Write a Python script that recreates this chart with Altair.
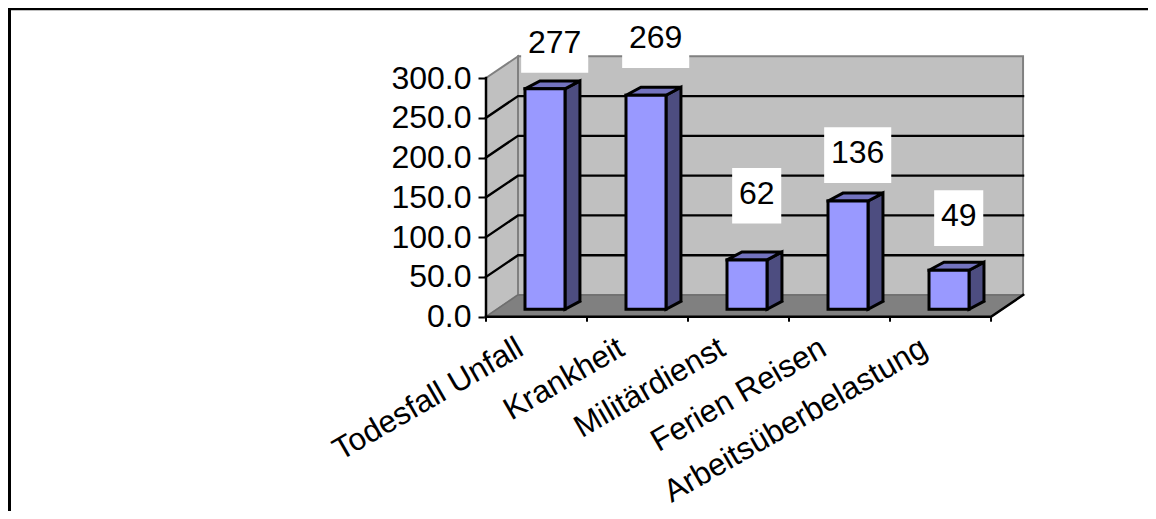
import altair as alt
import pandas as pd

categories = ["Todesfall Unfall", "Krankheit", "Militärdienst", "Ferien Reisen", "Arbeitsüberbelastung"]
values = [277, 269, 62, 136, 49]
y_ticks = [0, 50, 100, 150, 200, 250, 300]
label_lift = [64.5, 78.7, 90, 67, 75]  # how far each hand-placed data label sits above its bar

FONT = "Liberation Sans"
FS = 32
CAT_FS = 31.5
XS = alt.Scale(domain=[0, 6.554], nice=False, zero=False)
YS = alt.Scale(domain=[-244.2, 388], nice=False, zero=False)
DX, DY = 0.317, 27.3      # depth of the floor
BX, BY = 0.148, 10        # depth of a bar
INX, INY = 0.386, 9.4     # where bar fronts start in a slot
BW = 0.396
TOP = y_ticks[-1]
N = len(categories)

Y_AXIS = alt.Axis(values=y_ticks, format=".1f", title=None, domain=False, grid=False,
                  tickSize=8, tickWidth=2, tickColor="black", labelFont=FONT,
                  labelFontSize=FS, labelColor="black", labelPadding=7)
x_e = alt.X("x:Q", scale=XS, axis=None)
y_e = alt.Y("y:Q", scale=YS, axis=Y_AXIS)


def polys(shapes, **mark):
    rows = []
    for k, pts in enumerate(shapes):
        for o, (x, y) in enumerate(pts):
            rows.append({"p": k, "o": o, "x": x, "y": y})
    return alt.Chart(pd.DataFrame(rows)).mark_line(strokeJoin="miter", strokeCap="square", **mark).encode(
        x=x_e, y=y_e, detail="p:N", order="o:Q")


def closed(pts):
    return pts + [pts[0], pts[1]]


axis_line = polys([[(0, 0), (0, TOP)]], stroke="black", strokeWidth=2.5)
side_wall = polys([closed([(0, 0), (DX, DY), (DX, TOP + DY), (0, TOP)])], fill="#C0C0C0", stroke="#808080", strokeWidth=2)
back_wall = polys([closed([(DX, DY), (N + DX, DY), (N + DX, TOP + DY), (DX, TOP + DY)])], fill="#C0C0C0", stroke="#808080", strokeWidth=2)
floor = polys([closed([(0, 0), (N, 0), (N + DX, DY), (DX, DY)])], fill="#808080", stroke="#6E6E6E", strokeWidth=1.5)
grid = polys([[(0, v), (DX, v + DY), (N + DX, v + DY)] for v in y_ticks[1:-1]], stroke="black", strokeWidth=2.4)
front_edges = polys([[(0, 0), (N, 0), (N + DX, DY)]], stroke="black", strokeWidth=2.5)

ticks = alt.Chart(pd.DataFrame({"x": list(range(N + 1)), "y": [0] * (N + 1), "y2": [-6.3] * (N + 1)})).mark_rule(
    color="black", strokeWidth=2).encode(x=x_e, y=y_e, y2="y2:Q")

lab = pd.DataFrame({
    "x": [i + 0.68 for i in range(N)],
    "y": [v + l for v, l in zip(values, label_lift)],
    "t": [str(v) for v in values],
})
half = lab["t"].str.len().map({2: 0.243, 3: 0.332})
lab["x1"] = lab["x"] + half
lab["x0"] = lab["x"] - half
lab["y0"] = lab["y"] - 35
lab["y1"] = lab["y"] + 35
boxes = alt.Chart(lab).mark_rect(fill="white").encode(
    x=alt.X("x0:Q", scale=XS, axis=None), x2="x1:Q",
    y=alt.Y("y0:Q", scale=YS, axis=Y_AXIS), y2="y1:Q")
texts = alt.Chart(lab).mark_text(font=FONT, fontSize=FS, color="black", baseline="middle", dy=-2).encode(
    x=x_e, y=y_e, text="t:N")

fronts, tops, sides = [], [], []
for i, v in enumerate(values):
    l, r, b, t = i + INX, i + INX + BW, INY, INY + v
    fronts.append(closed([(l, b), (r, b), (r, t), (l, t)]))
    tops.append(closed([(l, t), (r, t), (r + BX, t + BY), (l + BX, t + BY)]))
    sides.append(closed([(r, b), (r + BX, b + BY), (r + BX, t + BY), (r, t)]))
bar_side = polys(sides, fill="#4D4D80", stroke="black", strokeWidth=3)
bar_top = polys(tops, fill="#7373BF", stroke="black", strokeWidth=3)
bar_front = polys(fronts, fill="#9999FF", stroke="black", strokeWidth=3)

cat = pd.DataFrame({"x": [i + 0.39 for i in range(N)], "y": [-47] * N, "t": categories})
cat_text = alt.Chart(cat).mark_text(font=FONT, fontSize=CAT_FS, color="black", angle=330, align="right",
                                    baseline="alphabetic").encode(x=x_e, y=y_e, text="t:N")

one = alt.Chart(pd.DataFrame({"a": [0]}))
frame_top = one.mark_rule(color="black", strokeWidth=2.5).encode(x=alt.value(-478), x2=alt.value(662), y=alt.value(1))
frame_left = one.mark_rule(color="black", strokeWidth=3).encode(x=alt.value(-476.5), y=alt.value(0), y2=alt.value(503))

chart = alt.layer(
    side_wall, back_wall, floor, grid, front_edges, axis_line, ticks, boxes, texts,
    bar_side, bar_top, bar_front, cat_text, frame_top, frame_left,
).properties(
    width=662, height=503, padding={"left": 478, "top": 0, "right": 0, "bottom": 0},
    autosize=alt.AutoSizeParams(type="none"), background="white",
).configure_view(stroke=None)

chart.save("out.html", embed_options={"renderer": "svg", "actions": False})
